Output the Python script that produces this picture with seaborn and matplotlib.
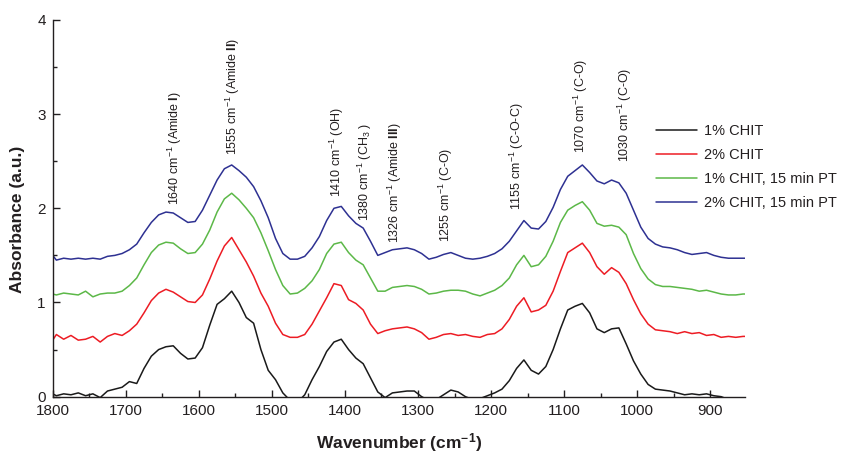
"""FTIR spectra of chitosan films (1% / 2% CHIT, with and without plasma treatment)."""
import numpy as np
import pandas as pd
import matplotlib
matplotlib.use('Agg')
import matplotlib.pyplot as plt
from matplotlib.ticker import MultipleLocator
import seaborn as sns

# wavenumber grid the spectra were read at (cm-1)
wavenumber = np.r_[1800, np.arange(1795, 850, -10), 850]

chit_1 = [
    0.03, 0.01, 0.03, 0.02, 0.04, 0.01, 0.03, -0.01, 0.06, 0.08,
    0.10, 0.16, 0.14, 0.30, 0.43, 0.50, 0.53, 0.54, 0.46, 0.40,
    0.41, 0.52, 0.76, 0.98, 1.04, 1.12, 1.00, 0.84, 0.78, 0.50,
    0.28, 0.18, 0.04, -0.04, -0.06, 0.02, 0.18, 0.32, 0.48, 0.58,
    0.61, 0.50, 0.41, 0.35, 0.20, 0.05, -0.01, 0.04, 0.05, 0.06,
    0.06, 0.00, -0.04, -0.03, 0.02, 0.07, 0.05, 0.00, -0.03, -0.02,
    0.01, 0.04, 0.08, 0.17, 0.30, 0.39, 0.28, 0.24, 0.32, 0.50,
    0.72, 0.92, 0.96, 0.99, 0.89, 0.72, 0.68, 0.72, 0.73, 0.56,
    0.38, 0.24, 0.13, 0.08, 0.07, 0.06, 0.04, 0.02, 0.03, 0.02,
    0.03, 0.01, 0.00, -0.03, -0.04, -0.05, -0.05,
]
chit_2 = [
    0.60, 0.66, 0.61, 0.65, 0.60, 0.61, 0.64, 0.58, 0.64, 0.67,
    0.65, 0.70, 0.77, 0.89, 1.02, 1.10, 1.14, 1.11, 1.06, 1.01,
    1.00, 1.08, 1.25, 1.44, 1.60, 1.69, 1.56, 1.43, 1.28, 1.10,
    0.96, 0.78, 0.66, 0.63, 0.63, 0.66, 0.77, 0.91, 1.05, 1.20,
    1.18, 1.03, 0.99, 0.92, 0.77, 0.67, 0.70, 0.72, 0.73, 0.74,
    0.72, 0.68, 0.61, 0.63, 0.66, 0.67, 0.65, 0.66, 0.64, 0.63,
    0.66, 0.67, 0.72, 0.82, 0.96, 1.05, 0.90, 0.92, 0.97, 1.12,
    1.33, 1.53, 1.58, 1.63, 1.53, 1.38, 1.30, 1.37, 1.32, 1.20,
    1.03, 0.88, 0.77, 0.71, 0.70, 0.69, 0.67, 0.69, 0.67, 0.68,
    0.65, 0.66, 0.63, 0.64, 0.63, 0.64, 0.64,
]
chit_1_pt = [
    1.09, 1.08, 1.10, 1.09, 1.08, 1.12, 1.06, 1.09, 1.10, 1.10,
    1.12, 1.18, 1.26, 1.40, 1.53, 1.61, 1.64, 1.63, 1.57, 1.52,
    1.53, 1.62, 1.77, 1.96, 2.10, 2.16, 2.09, 2.00, 1.90, 1.74,
    1.55, 1.35, 1.18, 1.09, 1.10, 1.15, 1.23, 1.35, 1.52, 1.62,
    1.64, 1.53, 1.45, 1.40, 1.26, 1.12, 1.12, 1.16, 1.17, 1.18,
    1.17, 1.14, 1.09, 1.10, 1.12, 1.13, 1.13, 1.12, 1.09, 1.07,
    1.10, 1.13, 1.18, 1.26, 1.40, 1.50, 1.38, 1.40, 1.49, 1.65,
    1.85, 1.98, 2.03, 2.07, 1.98, 1.84, 1.81, 1.82, 1.80, 1.72,
    1.52, 1.36, 1.25, 1.19, 1.17, 1.17, 1.16, 1.15, 1.14, 1.12,
    1.13, 1.11, 1.09, 1.08, 1.08, 1.09, 1.09,
]
chit_2_pt = [
    1.50, 1.45, 1.47, 1.46, 1.47, 1.46, 1.47, 1.46, 1.49, 1.50,
    1.52, 1.56, 1.62, 1.74, 1.85, 1.93, 1.96, 1.95, 1.90, 1.85,
    1.86, 1.98, 2.14, 2.30, 2.42, 2.46, 2.40, 2.33, 2.23, 2.08,
    1.90, 1.68, 1.52, 1.46, 1.46, 1.49, 1.58, 1.70, 1.87, 2.00,
    2.02, 1.92, 1.84, 1.79, 1.65, 1.50, 1.53, 1.56, 1.57, 1.58,
    1.56, 1.52, 1.46, 1.48, 1.51, 1.53, 1.50, 1.47, 1.46, 1.47,
    1.49, 1.52, 1.57, 1.65, 1.76, 1.87, 1.79, 1.78, 1.86, 2.01,
    2.20, 2.34, 2.40, 2.46, 2.38, 2.29, 2.26, 2.30, 2.27, 2.16,
    1.98, 1.80, 1.68, 1.62, 1.59, 1.58, 1.56, 1.53, 1.51, 1.52,
    1.53, 1.50, 1.48, 1.47, 1.47, 1.47, 1.47,
]

series_names = ['1% CHIT', '2% CHIT', '1% CHIT, 15 min PT', '2% CHIT, 15 min PT']
series_colors = ['#1a1a1a', '#ed1c24', '#5cb848', '#2e3192']

# band assignments: (label, x position, y of text bottom)
band_labels = [
    r'1640 cm$^{-1}$ (Amide $\mathbf{I}$)',
    r'1555 cm$^{-1}$ (Amide $\mathbf{II}$)',
    r'1410 cm$^{-1}$ (OH)',
    r'1380 cm$^{-1}$ (CH$_3$ )',
    r'1326 cm$^{-1}$ (Amide $\mathbf{III}$)',
    r'1255 cm$^{-1}$ (C-O)',
    r'1155 cm$^{-1}$ (C-O-C)',
    r'1070 cm$^{-1}$ (C-O)',
    r'1030 cm$^{-1}$ (C-O)',
]
band_x = [1633, 1554, 1411, 1373, 1332, 1262, 1165, 1077, 1017]
band_y = [2.03, 2.57, 2.12, 1.87, 1.63, 1.64, 1.98, 2.59, 2.49]

df = pd.DataFrame({
    'wavenumber': np.tile(wavenumber, 4),
    'absorbance': np.concatenate([chit_1, chit_2, chit_1_pt, chit_2_pt]),
    'sample': np.repeat(series_names, len(wavenumber)),
})

sns.set_style('ticks')
plt.rcParams['font.family'] = ['Liberation Sans', 'DejaVu Sans']
plt.rcParams['mathtext.fontset'] = 'custom'
plt.rcParams['mathtext.rm'] = 'Liberation Sans'
plt.rcParams['mathtext.it'] = 'Liberation Sans'
plt.rcParams['mathtext.bf'] = 'Liberation Sans:bold'
text_color = '#231f20'

fig = plt.figure(figsize=(8.42, 4.55), dpi=100)
ax = fig.add_axes([0.0626, 0.1282, 0.8225, 0.828])

sns.lineplot(data=df, x='wavenumber', y='absorbance', hue='sample',
             hue_order=series_names, palette=series_colors, sort=False,
             estimator=None, linewidth=1.1, ax=ax)

ax.set_xlim(1800, 852)
ax.set_ylim(0, 4)
ax.xaxis.set_major_locator(MultipleLocator(100))
ax.xaxis.set_minor_locator(MultipleLocator(50))
ax.yaxis.set_major_locator(MultipleLocator(1))
ax.yaxis.set_minor_locator(MultipleLocator(0.5))
ax.tick_params(which='both', direction='in', colors=text_color, labelsize=11, pad=5)
ax.tick_params(which='major', length=5, width=1)
ax.tick_params(which='minor', length=3, width=1)
sns.despine(ax=ax)
for side in ['left', 'bottom']:
    ax.spines[side].set_color(text_color)
    ax.spines[side].set_linewidth(1)

ax.set_xlabel(r'Wavenumber (cm$^{\mathbf{-1}}$)', fontsize=12.5, fontweight='bold',
              color=text_color, labelpad=10)
ax.set_ylabel('Absorbance (a.u.)', fontsize=12.5, fontweight='bold',
              color=text_color)
ax.yaxis.set_label_coords(-0.040, 0.47)

for label, x, y in zip(band_labels, band_x, band_y):
    ax.text(x, y, label, rotation=90, ha='center', va='bottom',
            fontsize=9, color=text_color)

sns.move_legend(ax, 'upper left', bbox_to_anchor=(0.772, 0.74),
                bbox_transform=fig.transFigure, frameon=False, title=None,
                fontsize=10.5, handlelength=2.8, handletextpad=0.5,
                labelspacing=0.68, borderaxespad=0)
for t in ax.get_legend().get_texts():
    t.set_color(text_color)

fig.savefig('out.png', dpi=100)
